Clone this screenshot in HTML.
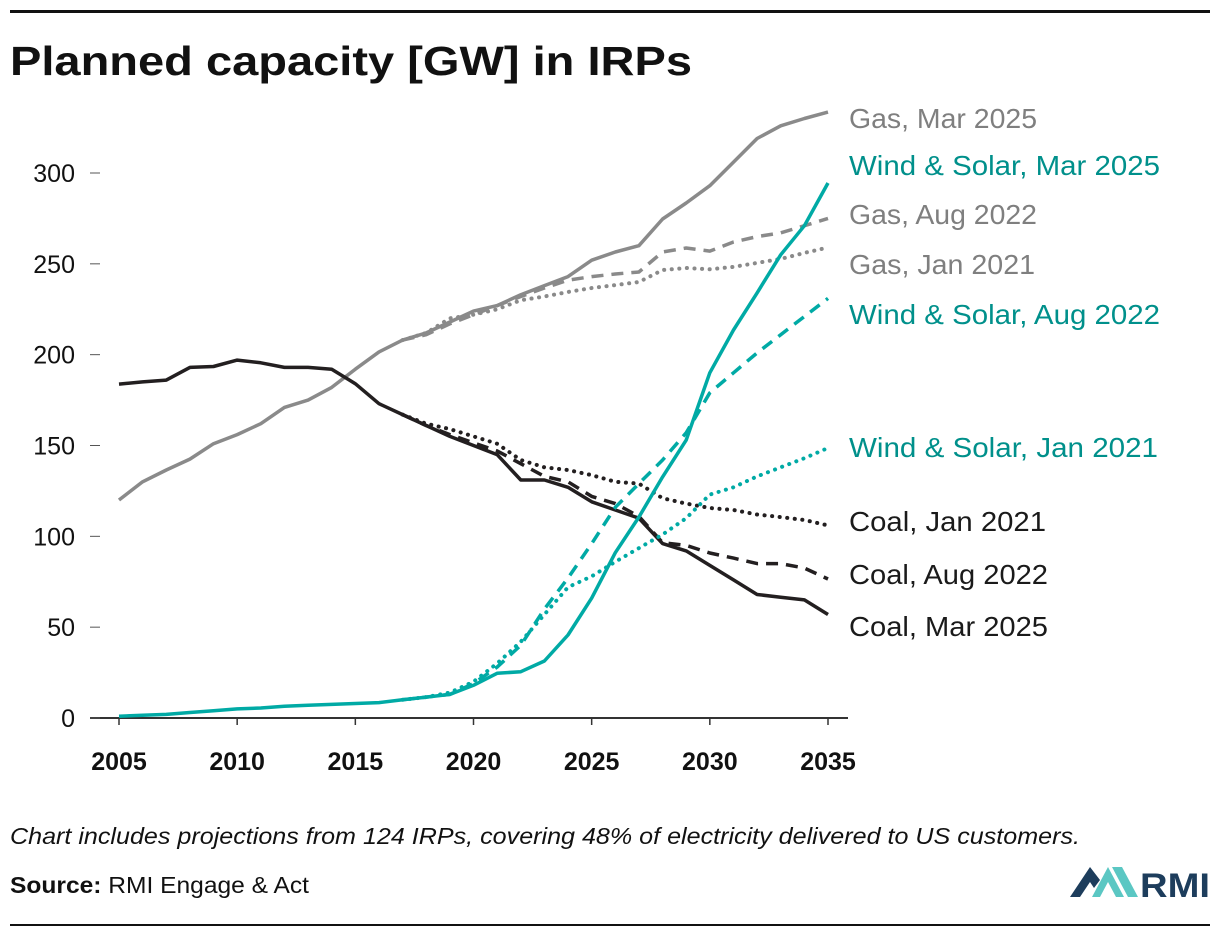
<!DOCTYPE html>
<html><head><meta charset="utf-8"><style>
body{margin:0;background:#fff;font-family:"Liberation Sans",sans-serif;}
#wrap{position:relative;width:1220px;height:936px;overflow:hidden;}
</style></head><body>
<div id="wrap">
<svg id="svg" width="1220" height="936">
<rect x="10" y="10" width="1200" height="3" fill="#111"/>
<text x="10" y="75" font-size="41" font-weight="bold" fill="#111" textLength="682" lengthAdjust="spacingAndGlyphs">Planned capacity [GW] in IRPs</text>
<g id="axes"></g>
<g id="lines"></g>
<g id="labels"></g>
<text x="10" y="844" font-size="23" font-style="italic" fill="#111" textLength="1070" lengthAdjust="spacingAndGlyphs">Chart includes projections from 124 IRPs, covering 48% of electricity delivered to US customers.</text>
<text x="10" y="893" font-size="23" fill="#111" textLength="299" lengthAdjust="spacingAndGlyphs"><tspan font-weight="bold">Source:</tspan> RMI Engage &amp; Act</text>
<g>
<polygon points="1070,897 1090,867 1100,880 1094,888 1090,882 1080,897" fill="#1d3d5c"/>
<polygon points="1092,897 1108,867 1124,897 1116,897 1108,882 1100,897" fill="#5bc7c3"/>
<polygon points="1112,867 1122,867 1138,897 1128,897" fill="#5bc7c3"/>
<text x="1140" y="897" font-size="34" font-weight="bold" fill="#1d3d5c" textLength="70" lengthAdjust="spacingAndGlyphs">RMI</text>
</g>
<rect x="10" y="924" width="1200" height="2" fill="#111"/>
</svg>
</div>
<script>
const xTicks=[2005,2010,2015,2020,2025,2030,2035];
const yTicks=[0,50,100,150,200,250,300];
const gasMar2025=[120,130,136.5,142.5,151,156,162,171,175,182,192,201.5,208,212,218,224,227,233,238,243,252,256.5,260,274.7,283.5,293,306,319,326,330,333.5];
const gasAug2022=[208,211,217,222,227,232,236.7,241,243,244.4,245.5,256.5,258.7,257,262,265,267,271,275];
const gasJan2021=[208,212,220,222,225,230,232,234.5,236.7,238.3,240,246.6,247.7,247,248.3,250.5,252.7,256,259];
const coalMar2025=[183.8,185,186,193,193.5,197,195.5,193,193,192,184,173,167,161,155,150,145,131,131,127,119,114.5,110,96,92,84,76,68,66.5,65,57];
const coalAug2022=[167,161,156,151.5,147,140,133,130,122,118,111,96.5,95,90.8,88,85,85,82.5,76.5];
const coalJan2021=[167,162,159,155,151,142,138,136.5,133.7,130,129,121,118,115.6,114.5,112,110.6,109,106];
const wsMar2025=[1,1.5,2,3,4,5,5.5,6.5,7,7.5,8,8.5,10,11.5,13,18,24.6,25.5,31.4,45.7,66,91,110.6,132.7,153,190,213.6,234,255,271,294.5];
const wsAug2022=[10,11.5,13,19,28,40,60,77,96,116,129,142,157,179,190,201,211,221,231];
const wsJan2021=[10,11.5,14,20,30,42,57,72,78,86,93.5,101,110,123,127,133,138,143,148.6];
const startYears=[2005,2017,2017,2005,2017,2017,2005,2017,2017];
const seriesNames=["Gas, Mar 2025","Gas, Aug 2022","Gas, Jan 2021","Coal, Mar 2025","Coal, Aug 2022","Coal, Jan 2021","Wind & Solar, Mar 2025","Wind & Solar, Aug 2022","Wind & Solar, Jan 2021"];
const allSeries=[gasMar2025,gasAug2022,gasJan2021,coalMar2025,coalAug2022,coalJan2021,wsMar2025,wsAug2022,wsJan2021];

const NS="http://www.w3.org/2000/svg";
const X=y=>119+(y-2005)*(828-119)/30;
const Y=v=>718-v*(718-173)/300;
const axes=document.getElementById('axes');
function mk(tag,attrs,parent){const e=document.createElementNS(NS,tag);for(const k in attrs)e.setAttribute(k,attrs[k]);parent.appendChild(e);return e;}
let ax=mk('line',{x1:90,x2:848,y1:718,y2:718,stroke:'#333','stroke-width':2},axes);


yTicks.forEach(v=>{
  let t=mk('line',{x1:90,x2:100,y1:Y(v),y2:Y(v),stroke:'#555','stroke-width':1},axes);
  
  
  let l=mk('text',{x:75,y:Y(v)+9,'font-size':25,'text-anchor':'end',fill:'#111'},axes);
  l.textContent=v;
  
  
});
xTicks.forEach(v=>{
  let t=mk('line',{x1:X(v),x2:X(v),y1:718,y2:725,stroke:'#333','stroke-width':1.5},axes);
  
  
  let l=mk('text',{x:X(v),y:770,'font-size':25,'font-weight':'bold','text-anchor':'middle',fill:'#111'},axes);
  l.textContent=v;
  
  
});
const colors=['#8a8a8a','#8a8a8a','#8a8a8a','#231f20','#231f20','#231f20','#00aaa5','#00aaa5','#00aaa5'];
const dashes=['none','12 8','0.1 7.5','none','12 8','0.1 7.5','none','12 8','0.1 7.5'];
const lines=document.getElementById('lines');
allSeries.forEach((arr,i)=>{
  const pts=arr.map((v,j)=>X(startYears[i]+j).toFixed(1)+','+Y(v).toFixed(1)).join(' ');
  const dotted=dashes[i]=='0.1 7.5';
  const p=mk('polyline',{points:pts,fill:'none',stroke:colors[i],'stroke-width':dotted?4:3.5,'stroke-dasharray':dashes[i],'stroke-linecap':dotted?'round':'butt','stroke-linejoin':'round'},lines);
  
  
});
const labelY=[118,214,264,626,574,521,165,314,447];
const labelW=[188,188,186,199,199,197,311,311,309];
const labelCol=['#7f7f7f','#7f7f7f','#7f7f7f','#1a1a1a','#1a1a1a','#1a1a1a','#00908b','#00908b','#00908b'];
const labels=document.getElementById('labels');
seriesNames.forEach((n,i)=>{
  const t=mk('text',{x:849,y:labelY[i]+10,'font-size':28,fill:labelCol[i],textLength:labelW[i],lengthAdjust:'spacingAndGlyphs'},labels);
  t.textContent=n;
  
  
});
</script>
</body></html>
